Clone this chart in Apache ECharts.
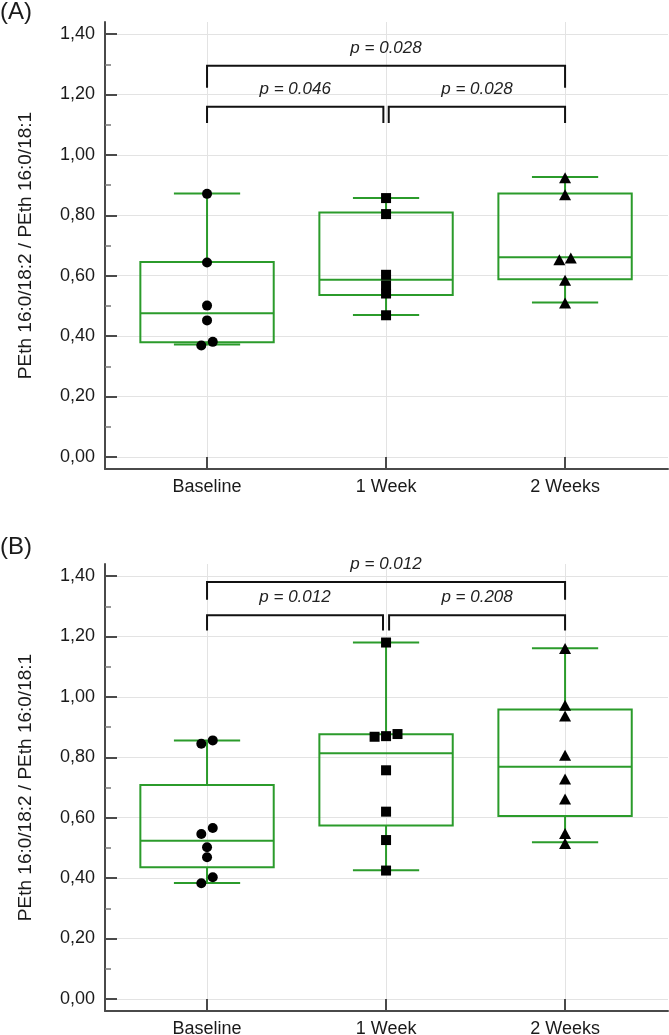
<!DOCTYPE html>
<html>
<head>
<meta charset="utf-8">
<script src="https://cdn.jsdelivr.net/npm/echarts@6/dist/echarts.min.js"></script>
<style>
html, body { margin: 0; padding: 0; background: #fff; }
#chart { width: 669px; height: 1035px; }
</style>
</head>
<body>
<div id="chart"></div>
<script>
var categories = ['Baseline', '1 Week', '2 Weeks'];
var yTicks = [0, 0.2, 0.4, 0.6, 0.8, 1.0, 1.2, 1.4];
var yMinorTicks = [0.1, 0.3, 0.5, 0.7, 0.9, 1.1, 1.3];

// (A) individual values per group
var baselineA = [0.369, 0.381, 0.452, 0.501, 0.644, 0.871];
var week1A = [0.469, 0.541, 0.568, 0.603, 0.804, 0.857];
var week2A = [0.510, 0.585, 0.653, 0.659, 0.868, 0.924];
// (A) boxes: min, q1, median, q3, max
var boxA = [
  [0.372, 0.380, 0.476, 0.645, 0.872],
  [0.470, 0.536, 0.587, 0.809, 0.857],
  [0.511, 0.588, 0.661, 0.872, 0.927]
];
// (A) brackets: from, to, bar level, foot level
var bracketsA = [[0, 2, 1.295, 1.222], [0, 0.985, 1.159, 1.106], [1.015, 2, 1.159, 1.106]];
var pLabelsA = ['p = 0.028', 'p = 0.046', 'p = 0.028'];

// (B)
var baselineB = [0.383, 0.403, 0.469, 0.502, 0.546, 0.566, 0.845, 0.856];
var week1B = [0.425, 0.526, 0.620, 0.757, 0.868, 0.870, 0.877, 1.180];
var week2B = [0.515, 0.548, 0.662, 0.728, 0.807, 0.937, 0.972, 1.160];
var boxB = [
  [0.384, 0.436, 0.524, 0.708, 0.856],
  [0.426, 0.574, 0.813, 0.876, 1.180],
  [0.519, 0.606, 0.769, 0.958, 1.161]
];
var bracketsB = [[0, 2, 1.380, 1.322], [0, 0.983, 1.270, 1.220], [1.017, 2, 1.270, 1.220]];
var pLabelsB = ['p = 0.012', 'p = 0.012', 'p = 0.208'];

var GREEN = '#2b9b2b';
var AXIS = '#4a4a4a';
var FONT = '"Liberation Sans", Arial, sans-serif';
var BOX_WIDTH = 0.745;
var CAP_WIDTH = 0.37;

// spread points that would overlap side by side, like the original plot
function dodge(values, group) {
  var s = values.slice().sort(function (a, b) { return a - b; });
  var out = [];
  var i = 0;
  while (i < s.length) {
    var j = i;
    while (j + 1 < s.length && s[j + 1] - s[j] < 0.023) j++;
    var n = j - i + 1;
    for (var k = 0; k < n; k++) {
      out.push([group + (k - (n - 1) / 2) * 0.064, s[i + k]]);
    }
    i = j + 1;
  }
  return out;
}

function renderBox(params, api) {
  var x = api.value(0);
  var pMin = api.coord([x, api.value(1)]);
  var pQ1 = api.coord([x, api.value(2)]);
  var pMed = api.coord([x, api.value(3)]);
  var pQ3 = api.coord([x, api.value(4)]);
  var pMax = api.coord([x, api.value(5)]);
  var hw = api.size([BOX_WIDTH, 0])[0] / 2;
  var cw = api.size([CAP_WIDTH, 0])[0] / 2;
  var cx = pMed[0];
  var st = { stroke: GREEN, lineWidth: 2, fill: 'none' };
  return {
    type: 'group',
    children: [
      { type: 'line', shape: { x1: cx, y1: pQ3[1], x2: cx, y2: pMax[1] }, style: st },
      { type: 'line', shape: { x1: cx, y1: pQ1[1], x2: cx, y2: pMin[1] }, style: st },
      { type: 'line', shape: { x1: cx - cw, y1: pMax[1], x2: cx + cw, y2: pMax[1] }, style: st },
      { type: 'line', shape: { x1: cx - cw, y1: pMin[1], x2: cx + cw, y2: pMin[1] }, style: st },
      { type: 'rect', shape: { x: cx - hw, y: pQ3[1], width: hw * 2, height: pQ1[1] - pQ3[1] }, style: st },
      { type: 'line', shape: { x1: cx - hw, y1: pMed[1], x2: cx + hw, y2: pMed[1] }, style: st }
    ]
  };
}

function bracketRenderer(labels) {
  return function (params, api) {
    var a = api.coord([api.value(0), api.value(2)]);
    var b = api.coord([api.value(1), api.value(2)]);
    var f = api.coord([api.value(0), api.value(3)]);
    return {
      type: 'group',
      children: [
        { type: 'polyline', shape: { points: [[a[0], f[1]], a, b, [b[0], f[1]]] },
          style: { stroke: '#111', lineWidth: 2, fill: 'none' } },
        { type: 'text', x: (a[0] + b[0]) / 2, y: a[1] - 18,
          style: { text: labels[params.dataIndex], fontSize: 17, fontStyle: 'italic',
                   fontFamily: FONT, fill: '#222', align: 'center', verticalAlign: 'middle' } }
      ]
    };
  };
}

function xAxisFor(gi) {
  return {
    type: 'value', gridIndex: gi, min: -0.57, max: 2.575,
    axisLine: { show: true, onZero: false, lineStyle: { color: AXIS, width: 2 } },
    axisTick: { show: true, inside: true, length: 12, customValues: [0, 1, 2], lineStyle: { color: AXIS, width: 2 } },
    axisLabel: { customValues: [0, 1, 2], margin: 9, fontSize: 18, fontFamily: FONT, color: '#1a1a1a',
                 formatter: function (v) { return categories[Math.round(v)]; } },
    splitLine: { show: true, lineStyle: { color: '#e3e3e3', width: 1 } }
  };
}

function yAxesFor(gi) {
  return [{
    type: 'value', gridIndex: gi, min: -0.04, max: 1.44, position: 'left',
    name: 'PEth 16:0/18:2 / PEth 16:0/18:1', nameLocation: 'middle', nameGap: 70, nameRotate: 90,
    nameTextStyle: { fontSize: 19, fontFamily: FONT, color: '#1a1a1a' },
    axisLine: { show: true, onZero: false, lineStyle: { color: AXIS, width: 2 } },
    axisTick: { show: true, inside: true, length: 12, customValues: yTicks, lineStyle: { color: AXIS, width: 2 } },
    axisLabel: { customValues: yTicks, margin: 10, fontSize: 18, fontFamily: FONT, color: '#1a1a1a',
                 formatter: function (v) { return v.toFixed(2).replace('.', ','); } },
    splitLine: { show: true, lineStyle: { color: '#e3e3e3', width: 1 } }
  }, {
    type: 'value', gridIndex: gi, min: -0.04, max: 1.44, position: 'left',
    axisLine: { show: false, onZero: false },
    axisTick: { show: true, inside: true, length: 6, customValues: yMinorTicks, lineStyle: { color: '#777', width: 1.5 } },
    axisLabel: { show: false },
    splitLine: { show: false }
  }];
}

function panelSeries(gi, yi, groups, boxes, brackets, labels) {
  var symbols = ['circle', 'rect', 'triangle'];
  var sizes = [10, 10, [12, 11]];
  var list = [{
    type: 'custom', xAxisIndex: gi, yAxisIndex: yi, renderItem: renderBox, silent: true, z: 2,
    data: boxes.map(function (b, i) { return [i].concat(b); })
  }, {
    type: 'custom', xAxisIndex: gi, yAxisIndex: yi, renderItem: bracketRenderer(labels), silent: true, z: 2, clip: false,
    data: brackets
  }];
  groups.forEach(function (vals, i) {
    list.push({
      type: 'scatter', xAxisIndex: gi, yAxisIndex: yi, symbol: symbols[i], symbolSize: sizes[i],
      itemStyle: { color: '#000', opacity: 1 }, z: 3, silent: true,
      data: dodge(vals, i)
    });
  });
  return list;
}

var chart = echarts.init(document.getElementById('chart'));
chart.setOption({
  animation: false,
  backgroundColor: '#fff',
  title: [
    { text: '(A)', left: 0, top: 0, padding: 0, textStyle: { fontSize: 24, fontWeight: 'normal', fontFamily: FONT, color: '#1a1a1a' } },
    { text: '(B)', left: 0, top: 535, padding: 0, textStyle: { fontSize: 24, fontWeight: 'normal', fontFamily: FONT, color: '#1a1a1a' } }
  ],
  grid: [
    { left: 105, right: 1, top: 22, height: 447, outerBoundsMode: 'none' },
    { left: 105, right: 1, top: 564, height: 447, outerBoundsMode: 'none' }
  ],
  xAxis: [xAxisFor(0), xAxisFor(1)],
  yAxis: yAxesFor(0).concat(yAxesFor(1)),
  series: panelSeries(0, 0, [baselineA, week1A, week2A], boxA, bracketsA, pLabelsA)
    .concat(panelSeries(1, 2, [baselineB, week1B, week2B], boxB, bracketsB, pLabelsB))
});
</script>
</body>
</html>
